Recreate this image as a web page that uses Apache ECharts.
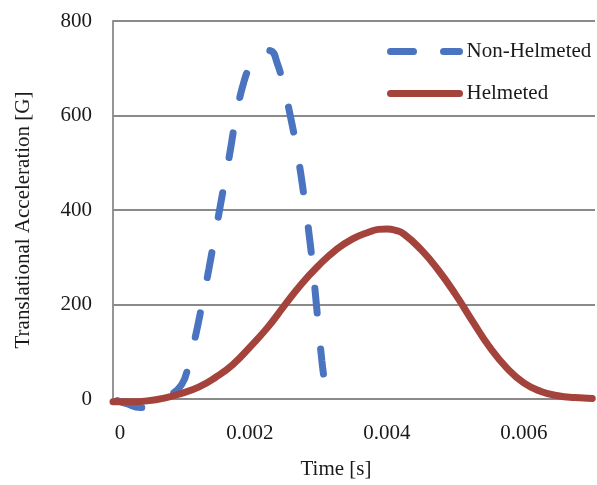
<!DOCTYPE html>
<html>
<head>
<meta charset="utf-8">
<script src="https://cdn.jsdelivr.net/npm/echarts@6/dist/echarts.min.js"></script>
<style>
html,body{margin:0;padding:0;background:#fff;}
#chart{width:597px;height:485px;}
</style>
</head>
<body>
<div id="chart"></div>
<script>
// Time (s) and acceleration (G)
var nonHelmetedTime = [0, 0.0002, 0.0004, 0.0006, 0.0008, 0.0010, 0.0011, 0.0012, 0.0013, 0.0014, 0.0015, 0.0016, 0.0017, 0.0018, 0.0019, 0.0020, 0.0021, 0.0022, 0.0023, 0.0024, 0.0025, 0.0026, 0.0027, 0.0028, 0.0029, 0.00295, 0.0030, 0.00305, 0.00309];
var nonHelmetedAcc  = [0, -10, -18, -12, 5, 30, 70, 130, 200, 275, 355, 435, 515, 600, 665, 705, 728, 738, 737, 710, 657, 592, 515, 418, 305, 232, 155, 82, 35];

var helmetedTime = [0, 0.00025, 0.0005, 0.00075, 0.0010, 0.00125, 0.0015, 0.00175, 0.0020, 0.00225, 0.0025, 0.00275, 0.0030, 0.00325, 0.0035, 0.00375, 0.003875, 0.0040, 0.004125, 0.00425, 0.0045, 0.00475, 0.0050, 0.00525, 0.0055, 0.00575, 0.0060, 0.00625, 0.0065, 0.00675, 0.0070];
var helmetedAcc  = [-6, -6, -4, 2, 12, 25, 46, 73, 110, 150, 197, 243, 282, 315, 339, 354, 359, 360, 357, 349, 316, 273, 222, 165, 110, 66, 34, 16, 7, 3, 1];

var xTicks = [0, 0.002, 0.004, 0.006];
var yTicks = [0, 200, 400, 600, 800];
var seriesNames = ['Non-Helmeted', 'Helmeted'];

function zip(a, b) { return a.map(function (v, i) { return [v, b[i]]; }); }

var FONT = 'Liberation Serif';
var BLUE = '#4A74C0';
var RED = '#A3433B';
var chart = echarts.init(document.getElementById('chart'));
chart.setOption({
  animation: false,
  backgroundColor: '#ffffff',
  textStyle: { fontFamily: FONT, color: '#1a1a1a' },
  grid: { left: 113, top: 21, right: 2, bottom: 83, containLabel: false },
  legend: {
    orient: 'vertical',
    left: 387,
    top: 41,
    padding: 0,
    itemGap: 21,
    itemWidth: 69,
    itemHeight: 8,
    itemStyle: { opacity: 0 },
    lineStyle: { width: 7, cap: 'round' },
    textStyle: { fontFamily: FONT, fontSize: 21, color: '#1a1a1a', padding: [0, 0, 0, 2] },
    data: [
      { name: seriesNames[0], lineStyle: { width: 7, color: BLUE, type: [23, 30], dashOffset: 0, cap: 'round' } },
      { name: seriesNames[1], lineStyle: { width: 7, color: RED, type: 'solid', cap: 'round' } }
    ]
  },
  xAxis: {
    type: 'value',
    min: 0,
    max: 0.00704,
    interval: 0.002,
    name: 'Time [s]',
    nameLocation: 'middle',
    nameGap: 60,
    nameTextStyle: { fontFamily: FONT, fontSize: 21, color: '#1a1a1a', padding: [0, 36, 0, 0] },
    axisLine: { show: false },
    axisTick: { show: false },
    splitLine: { show: false },
    axisLabel: {
      fontFamily: FONT, fontSize: 21, color: '#1a1a1a', margin: 24,
      showMaxLabel: false,
      rich: { z: { fontFamily: FONT, fontSize: 21, color: '#1a1a1a', padding: [0, 0, 0, 14] } },
      formatter: function (v) {
        if (Math.abs(v - xTicks[0]) < 1e-9) return '{z|' + String(xTicks[0]) + '}';
        for (var i = 1; i < xTicks.length; i++) {
          if (Math.abs(v - xTicks[i]) < 1e-9) return String(xTicks[i]);
        }
        return '';
      }
    }
  },
  yAxis: {
    type: 'value',
    min: yTicks[0],
    max: yTicks[yTicks.length - 1],
    interval: 200,
    name: 'Translational Acceleration [G]',
    nameLocation: 'middle',
    nameGap: 79,
    nameRotate: 90,
    nameTextStyle: { fontFamily: FONT, fontSize: 21, color: '#1a1a1a', padding: [0, 20, 0, 0] },
    axisLine: { show: true, lineStyle: { color: '#8a8a8a', width: 1.8 } },
    axisTick: { show: false },
    splitLine: { show: true, lineStyle: { color: '#8a8a8a', width: 1.8 } },
    axisLabel: { fontFamily: FONT, fontSize: 21, color: '#1a1a1a', margin: 21 }
  },
  series: [
    {
      name: seriesNames[0],
      type: 'line',
      data: zip(nonHelmetedTime, nonHelmetedAcc),
      smooth: true,
      showSymbol: false,
      symbol: 'none',
      clip: false,
      z: 3,
      itemStyle: { color: BLUE },
      lineStyle: { color: BLUE, width: 7, type: [25, 36], dashOffset: -5, cap: 'round' }
    },
    {
      name: seriesNames[1],
      type: 'line',
      data: zip(helmetedTime, helmetedAcc),
      smooth: true,
      showSymbol: false,
      symbol: 'none',
      clip: false,
      z: 4,
      itemStyle: { color: RED },
      lineStyle: { color: RED, width: 7, cap: 'round' }
    }
  ]
});
</script>
</body>
</html>
